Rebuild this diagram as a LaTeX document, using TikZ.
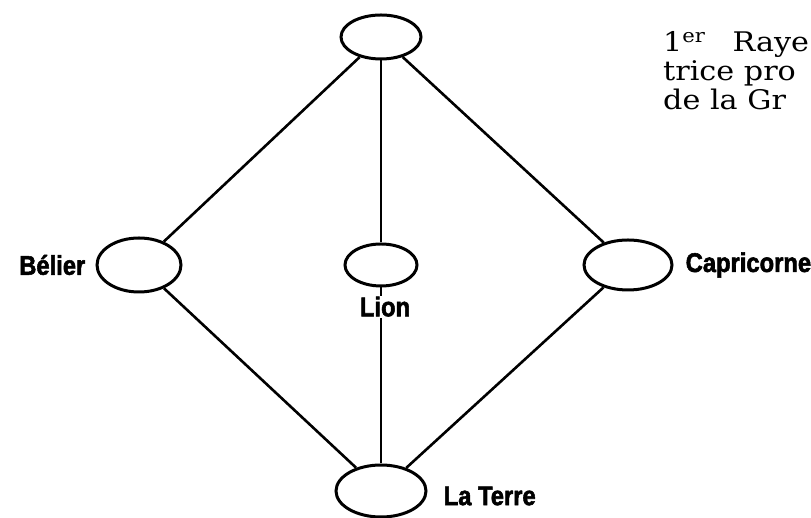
\documentclass[tikz,border=0pt]{standalone}
\usepackage{fontspec}
\setmainfont{DejaVu Serif}[FakeStretch=1.12]
\newfontfamily\labelfont{Liberation Sans}[FakeStretch=0.88,FakeBold=2]
\usetikzlibrary{positioning,shapes}

\begin{document}
\begin{tikzpicture}[
  x=1pt,y=1pt,
  oval/.style={draw,ellipse,line width=3pt,inner sep=0pt},
  link/.style={draw,line width=2.6pt},
  tag/.style={font=\labelfont\bfseries\fontsize{27}{27}\selectfont,inner sep=0pt}
]
\useasboundingbox (0,0) rectangle (811,518);
\clip (0,0) rectangle (811,518);
\node[oval,minimum width=72pt,minimum height=42pt] (lion) at (381,253) {};
\node[oval,minimum width=80pt,minimum height=44pt,above=182pt of lion] (top) {};
\node[oval,minimum width=84pt,minimum height=54pt,left=161pt of lion] (belier) {};
\node[oval,minimum width=88pt,minimum height=50pt,right=164pt of lion] (capri) {};
\node[oval,minimum width=90pt,minimum height=52pt,below=176pt of lion] (terre) {};
\path (top) edge[link] (belier)
(top) edge[link] (lion)
(top) edge[link] (capri)
(belier) edge[link] (terre)
(lion) edge[link] (terre)
(capri) edge[link] (terre);
\node[tag,left=10pt of belier] (belierlbl) {Bélier};
\node[tag,below=8pt of lion,xshift=4pt,fill=white,inner sep=1pt] (lionlbl) {Lion};
\node[tag,right=12pt of capri] (caprilbl) {Capricorne};
\node[tag,right=16pt of terre,yshift=-5pt] (terrelbl) {La Terre};
\node[anchor=base west,align=left,inner sep=0pt,
  font=\fontsize{27}{29}\selectfont] (titre) at (663,408)
  {1\textsuperscript{er}\quad Raye\\trice pro\\de la Gr};
\end{tikzpicture}
\end{document}
